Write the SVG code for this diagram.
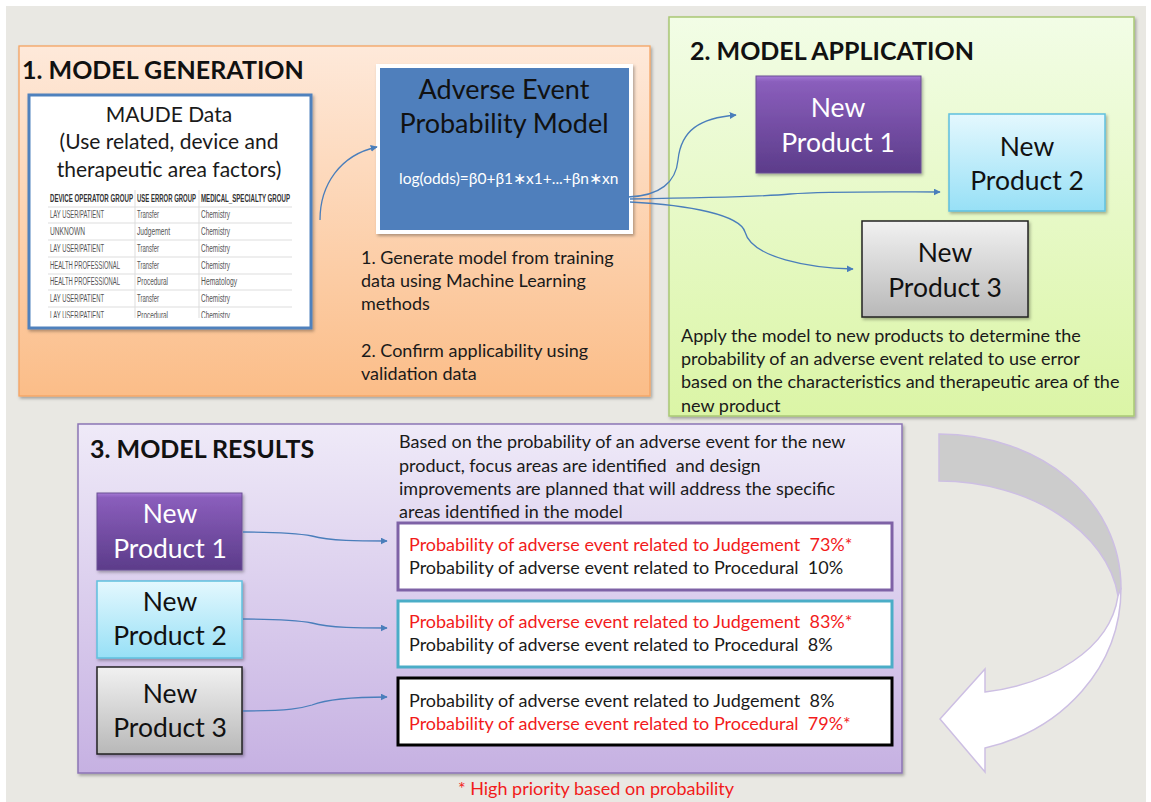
<svg xmlns="http://www.w3.org/2000/svg" width="1151" height="802" viewBox="0 0 1151 802">
  <defs>
    <linearGradient id="gOrange" x1="0" y1="0" x2="0" y2="1">
      <stop offset="0" stop-color="#FEE9DA"/>
      <stop offset="1" stop-color="#FBBD88"/>
    </linearGradient>
    <linearGradient id="gGreen" x1="0" y1="0" x2="0" y2="1">
      <stop offset="0" stop-color="#F2FDE6"/>
      <stop offset="1" stop-color="#DBF5A6"/>
    </linearGradient>
    <linearGradient id="gLilac" x1="0" y1="0" x2="0" y2="1">
      <stop offset="0" stop-color="#EFEAF8"/>
      <stop offset="1" stop-color="#C6B1E2"/>
    </linearGradient>
    <linearGradient id="gPurple" x1="0" y1="0" x2="0" y2="1">
      <stop offset="0" stop-color="#A57BD6"/>
      <stop offset="0.06" stop-color="#8A5EBC"/>
      <stop offset="1" stop-color="#5C3C8A"/>
    </linearGradient>
    <linearGradient id="gCyan" x1="0" y1="0" x2="0" y2="1">
      <stop offset="0" stop-color="#E4F8FE"/>
      <stop offset="1" stop-color="#97E0F6"/>
    </linearGradient>
    <linearGradient id="gGrey" x1="0" y1="0" x2="0" y2="1">
      <stop offset="0" stop-color="#F1F1F1"/>
      <stop offset="1" stop-color="#B8B8B8"/>
    </linearGradient>
    <filter id="shadow" x="-5%" y="-5%" width="110%" height="112%">
      <feDropShadow dx="1.5" dy="2" stdDeviation="1.5" flood-color="#000" flood-opacity="0.3"/>
    </filter>
    <marker id="arrow" viewBox="0 0 10 10" refX="9" refY="5" markerWidth="7" markerHeight="7" markerUnits="userSpaceOnUse" orient="auto">
      <path d="M0,0 L10,5 L0,10 z" fill="#4A7EBB"/>
    </marker>
    <clipPath id="tableClip">
      <rect x="40" y="186" width="254" height="132"/>
    </clipPath>
    <style>
      text { font-family: Lato, "Open Sans", "Liberation Sans", sans-serif; }
      .title { font-size: 25px; font-weight: bold; fill: #111; }
      .body { font-size: 18px; fill: #1a1a1a; }
      .prod { font-size: 26.5px; text-anchor: middle; }
      .white { fill: #ffffff; }
      .dark { fill: #111111; }
      .red { fill: #F21B1B; }
      .tbl { font-family: "Liberation Sans", Arial, sans-serif; font-size: 11px; fill: #555; }
      .tblh { font-family: "Liberation Sans", Arial, sans-serif; font-size: 11px; font-weight: bold; fill: #333; }
      .conn { fill: none; stroke: #4A7EBB; stroke-width: 1.3; marker-end: url(#arrow); }
      .grid { stroke: #DDDDDD; stroke-width: 1; }
    </style>
  </defs>

  <!-- page -->
  <rect x="0" y="0" width="1151" height="802" fill="#ffffff"/>
  <rect x="6" y="6" width="1140" height="796" fill="#E9E8E3"/>

  <!-- section 1: model generation -->
  <g id="panel-generation">
    <rect x="19" y="46" width="631" height="350" fill="url(#gOrange)" stroke="#F5A462" stroke-width="1.3" filter="url(#shadow)"/>
    <text class="title" x="22" y="79">1. MODEL GENERATION</text>
  </g>

  <g id="maude-data">
    <rect x="29" y="95" width="282" height="233" fill="#ffffff" stroke="#4F81BD" stroke-width="3" filter="url(#shadow)"/>
    <text x="169" y="122" font-size="21" text-anchor="middle" fill="#1a1a1a">MAUDE Data</text>
    <text x="169" y="149" font-size="21" text-anchor="middle" fill="#1a1a1a">(Use related, device and</text>
    <text x="169" y="177" font-size="21" text-anchor="middle" fill="#1a1a1a">therapeutic area factors)</text>
    <g clip-path="url(#tableClip)">
      <line class="grid" x1="48" y1="207" x2="292" y2="207"/>
      <line class="grid" x1="48" y1="223" x2="292" y2="223"/>
      <line class="grid" x1="48" y1="240" x2="292" y2="240"/>
      <line class="grid" x1="48" y1="257" x2="292" y2="257"/>
      <line class="grid" x1="48" y1="274" x2="292" y2="274"/>
      <line class="grid" x1="48" y1="290" x2="292" y2="290"/>
      <line class="grid" x1="48" y1="307" x2="292" y2="307"/>
      <line class="grid" x1="135" y1="190" x2="135" y2="320"/>
      <line class="grid" x1="199" y1="190" x2="199" y2="320"/>
      <!-- narrow table lettering: horizontally condensed -->
      <g transform="scale(0.55,1)">
        <text class="tblh" x="90.9" y="202" textLength="150.9" lengthAdjust="spacingAndGlyphs">DEVICE OPERATOR GROUP</text>
        <text class="tblh" x="249.1" y="202" textLength="107.3" lengthAdjust="spacingAndGlyphs">USE ERROR GROUP</text>
        <text class="tblh" x="365.5" y="202" textLength="161.8" lengthAdjust="spacingAndGlyphs">MEDICAL_SPECIALTY GROUP</text>

        <text class="tbl" x="90.9" y="218" textLength="98.2" lengthAdjust="spacingAndGlyphs">LAY USER/PATIENT</text>
        <text class="tbl" x="249.1" y="218" textLength="40" lengthAdjust="spacingAndGlyphs">Transfer</text>
        <text class="tbl" x="365.5" y="218" textLength="52.7" lengthAdjust="spacingAndGlyphs">Chemistry</text>

        <text class="tbl" x="90.9" y="235" textLength="63.6" lengthAdjust="spacingAndGlyphs">UNKNOWN</text>
        <text class="tbl" x="249.1" y="235" textLength="60" lengthAdjust="spacingAndGlyphs">Judgement</text>
        <text class="tbl" x="365.5" y="235" textLength="52.7" lengthAdjust="spacingAndGlyphs">Chemistry</text>

        <text class="tbl" x="90.9" y="252" textLength="98.2" lengthAdjust="spacingAndGlyphs">LAY USER/PATIENT</text>
        <text class="tbl" x="249.1" y="252" textLength="40" lengthAdjust="spacingAndGlyphs">Transfer</text>
        <text class="tbl" x="365.5" y="252" textLength="52.7" lengthAdjust="spacingAndGlyphs">Chemistry</text>

        <text class="tbl" x="90.9" y="269" textLength="127.3" lengthAdjust="spacingAndGlyphs">HEALTH PROFESSIONAL</text>
        <text class="tbl" x="249.1" y="269" textLength="40" lengthAdjust="spacingAndGlyphs">Transfer</text>
        <text class="tbl" x="365.5" y="269" textLength="52.7" lengthAdjust="spacingAndGlyphs">Chemistry</text>

        <text class="tbl" x="90.9" y="285" textLength="127.3" lengthAdjust="spacingAndGlyphs">HEALTH PROFESSIONAL</text>
        <text class="tbl" x="249.1" y="285" textLength="56.4" lengthAdjust="spacingAndGlyphs">Procedural</text>
        <text class="tbl" x="365.5" y="285" textLength="65.5" lengthAdjust="spacingAndGlyphs">Hematology</text>

        <text class="tbl" x="90.9" y="302" textLength="98.2" lengthAdjust="spacingAndGlyphs">LAY USER/PATIENT</text>
        <text class="tbl" x="249.1" y="302" textLength="40" lengthAdjust="spacingAndGlyphs">Transfer</text>
        <text class="tbl" x="365.5" y="302" textLength="52.7" lengthAdjust="spacingAndGlyphs">Chemistry</text>

        <text class="tbl" x="90.9" y="319" textLength="98.2" lengthAdjust="spacingAndGlyphs">LAY USER/PATIENT</text>
        <text class="tbl" x="249.1" y="319" textLength="56.4" lengthAdjust="spacingAndGlyphs">Procedural</text>
        <text class="tbl" x="365.5" y="319" textLength="52.7" lengthAdjust="spacingAndGlyphs">Chemistry</text>
      </g>
    </g>
  </g>

  <g id="probability-model">
    <rect x="378" y="66" width="253" height="166" fill="#4F7FBC" stroke="#ffffff" stroke-width="4" filter="url(#shadow)"/>
    <text x="504" y="99" font-size="27" text-anchor="middle" fill="#111">Adverse Event</text>
    <text x="504" y="133" font-size="27" text-anchor="middle" fill="#111">Probability Model</text>
    <text x="399" y="184" font-size="15.5" fill="#ffffff">log(odds)=β0+β1∗x1+...+βn∗xn</text>
  </g>

  <g id="generation-notes">
    <text class="body" x="361" y="264">1. Generate model from training</text>
    <text class="body" x="361" y="287">data using Machine Learning</text>
    <text class="body" x="361" y="310">methods</text>
    <text class="body" x="361" y="357">2. Confirm applicability using</text>
    <text class="body" x="361" y="380">validation data</text>
  </g>

  <!-- section 2: model application -->
  <g id="panel-application">
    <rect x="669" y="17" width="465" height="399" fill="url(#gGreen)" stroke="#A9C874" stroke-width="1.5" filter="url(#shadow)"/>
    <text class="title" x="690" y="60">2. MODEL APPLICATION</text>
    <text class="body" x="681" y="342">Apply the model to new products to determine the</text>
    <text class="body" x="681" y="365">probability of an adverse event related to use error</text>
    <text class="body" x="681" y="388">based on the characteristics and therapeutic area of the</text>
    <text class="body" x="681" y="412">new product</text>
  </g>

  <g id="app-product-1">
    <rect x="756" y="76" width="165" height="97" fill="url(#gPurple)" stroke="#6B4E94" stroke-width="1" filter="url(#shadow)"/>
    <text class="prod white" x="838" y="117">New</text>
    <text class="prod white" x="838" y="152">Product 1</text>
  </g>
  <g id="app-product-2">
    <rect x="949" y="114" width="156" height="97" fill="url(#gCyan)" stroke="#5FC0DE" stroke-width="1.5" filter="url(#shadow)"/>
    <text class="prod dark" x="1027" y="156">New</text>
    <text class="prod dark" x="1027" y="190">Product 2</text>
  </g>
  <g id="app-product-3">
    <rect x="862" y="221" width="166" height="96" fill="url(#gGrey)" stroke="#222" stroke-width="1.5" filter="url(#shadow)"/>
    <text class="prod dark" x="945" y="262">New</text>
    <text class="prod dark" x="945" y="297">Product 3</text>
  </g>

  <!-- section 3: model results -->
  <g id="panel-results">
    <rect x="78" y="424" width="824" height="349" fill="url(#gLilac)" stroke="#8C75B5" stroke-width="1.5" filter="url(#shadow)"/>
    <text class="title" x="90" y="458">3. MODEL RESULTS</text>
    <text class="body" x="399" y="448">Based on the probability of an adverse event for the new</text>
    <text class="body" x="399" y="472">product, focus areas are identified&#160; and design</text>
    <text class="body" x="399" y="495">improvements are planned that will address the specific</text>
    <text class="body" x="399" y="518">areas identified in the model</text>
  </g>

  <g id="res-product-1">
    <rect x="97" y="493" width="145" height="77" fill="url(#gPurple)" stroke="#6B4E94" stroke-width="1" filter="url(#shadow)"/>
    <text class="prod white" x="170" y="523">New</text>
    <text class="prod white" x="170" y="558">Product 1</text>
  </g>
  <g id="res-product-2">
    <rect x="97" y="581" width="145" height="77" fill="url(#gCyan)" stroke="#5FC0DE" stroke-width="1.5" filter="url(#shadow)"/>
    <text class="prod dark" x="170" y="611">New</text>
    <text class="prod dark" x="170" y="645">Product 2</text>
  </g>
  <g id="res-product-3">
    <rect x="97" y="667" width="145" height="87" fill="url(#gGrey)" stroke="#222" stroke-width="1.5" filter="url(#shadow)"/>
    <text class="prod dark" x="170" y="703">New</text>
    <text class="prod dark" x="170" y="737">Product 3</text>
  </g>

  <g id="result-1">
    <rect x="398" y="523" width="494" height="67" fill="#ffffff" stroke="#7E62A6" stroke-width="3"/>
    <text class="body red" x="409" y="551">Probability of adverse event related to Judgement&#160; 73%*</text>
    <text class="body" x="409" y="574">Probability of adverse event related to Procedural&#160; 10%</text>
  </g>
  <g id="result-2">
    <rect x="398" y="601" width="494" height="66" fill="#ffffff" stroke="#4BADC7" stroke-width="3"/>
    <text class="body red" x="409" y="628">Probability of adverse event related to Judgement&#160; 83%*</text>
    <text class="body" x="409" y="651">Probability of adverse event related to Procedural&#160; 8%</text>
  </g>
  <g id="result-3">
    <rect x="398" y="678" width="494" height="67" fill="#ffffff" stroke="#000000" stroke-width="3"/>
    <text class="body" x="409" y="707">Probability of adverse event related to Judgement&#160; 8%</text>
    <text class="body red" x="409" y="730">Probability of adverse event related to Procedural&#160; 79%*</text>
  </g>

  <text id="footnote" class="body red" x="596" y="795" text-anchor="middle">* High priority based on probability</text>

  <!-- U-turn arrow from application back to results -->
  <g id="return-arrow" stroke="#CDBFE3" stroke-width="1.5">
    <path d="M939,434 C1040,434 1121,500 1121,588 L1118,596 C1108,532 1030,481 939,481 Z" fill="#CCCCCC"/>
    <path d="M1121,588 C1121,668 1062,730 985,748 L985,772 L940,719 L985,669 L985,692 C1050,684 1110,650 1118,596 Z" fill="#ffffff"/>
  </g>

  <!-- connectors -->
  <g id="connectors">
    <path class="conn" d="M320,220 C320,185 340,155 377,147"/>
    <path class="conn" d="M628,197 C660,196 676,182 678,160 C681,130 700,118 736,115"/>
    <path class="conn" d="M630,199 C700,198 760,197 790,194 C830,191 900,192 940,192"/>
    <path class="conn" d="M630,202 C690,205 740,215 745,232 C752,258 810,268 853,269"/>
    <path class="conn" d="M243,532 C290,532 302,534 312,536 C330,541 360,541 387,541"/>
    <path class="conn" d="M243,619 C290,619 302,621 312,623 C330,628 360,628 387,628"/>
    <path class="conn" d="M243,711 C290,711 302,708 312,705 C330,698 360,697 387,697"/>
  </g>
</svg>
